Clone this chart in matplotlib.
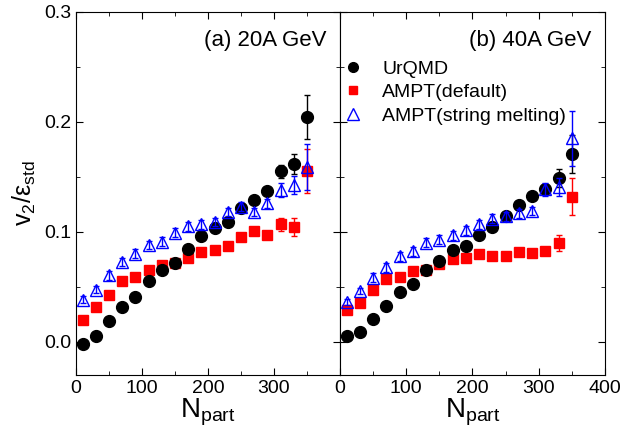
import numpy as np
import matplotlib
matplotlib.use('Agg')
import matplotlib.pyplot as plt
from matplotlib.ticker import MultipleLocator
from matplotlib.lines import Line2D

plt.rcParams['font.family'] = ['Liberation Sans', 'DejaVu Sans']
plt.rcParams['mathtext.fontset'] = 'custom'
plt.rcParams['mathtext.rm'] = 'Liberation Sans'
plt.rcParams['mathtext.it'] = 'Liberation Sans'

# N_part bins
npart = [10, 30, 50, 70, 90, 110, 130, 150, 170, 190, 210, 230, 250, 270, 290, 310, 330, 350]

# 20A GeV
urqmd_20 = [-0.0015, 0.0055, 0.019, 0.032, 0.041, 0.055, 0.0655, 0.072, 0.084, 0.0967,
            0.1034, 0.109, 0.122, 0.129, 0.137, 0.155, 0.1615, 0.204]
urqmd_20_err = [0.001, 0.001, 0.001, 0.001, 0.001, 0.001, 0.001, 0.001, 0.002, 0.002,
                0.002, 0.002, 0.003, 0.003, 0.003, 0.006, 0.009, 0.02]
def_20 = [0.0197, 0.032, 0.043, 0.055, 0.059, 0.065, 0.070, 0.0713, 0.0767, 0.0815,
          0.0834, 0.0876, 0.0958, 0.1006, 0.0973, 0.107, 0.1045, 0.155]
def_20_err = [0.001, 0.001, 0.001, 0.001, 0.001, 0.001, 0.001, 0.002, 0.002, 0.002,
              0.002, 0.002, 0.002, 0.003, 0.003, 0.006, 0.008, 0.02]
sm_20 = [0.0385, 0.0476, 0.0606, 0.0727, 0.080, 0.088, 0.091, 0.0994, 0.105, 0.107,
         0.109, 0.118, 0.123, 0.118, 0.126, 0.138, 0.1425, 0.159]
sm_20_err = [0.003, 0.003, 0.004, 0.004, 0.004, 0.004, 0.004, 0.004, 0.004, 0.004,
             0.004, 0.004, 0.004, 0.004, 0.004, 0.006, 0.008, 0.021]

# 40A GeV
urqmd_40 = [0.0055, 0.0091, 0.0213, 0.0325, 0.0455, 0.053, 0.065, 0.0734, 0.0834, 0.0873,
            0.0976, 0.104, 0.1145, 0.124, 0.1327, 0.1394, 0.149, 0.1706]
urqmd_40_err = [0.001, 0.001, 0.001, 0.001, 0.001, 0.001, 0.001, 0.002, 0.002, 0.002,
                0.002, 0.002, 0.003, 0.003, 0.003, 0.004, 0.008, 0.017]
def_40 = [0.0288, 0.0355, 0.047, 0.0573, 0.0594, 0.0643, 0.0658, 0.0706, 0.0752, 0.0767,
          0.0797, 0.078, 0.078, 0.0818, 0.081, 0.0827, 0.090, 0.132]
def_40_err = [0.001, 0.001, 0.001, 0.001, 0.001, 0.001, 0.001, 0.001, 0.002, 0.002,
              0.002, 0.002, 0.002, 0.002, 0.002, 0.004, 0.0075, 0.017]
sm_40 = [0.0364, 0.0464, 0.0585, 0.068, 0.078, 0.0825, 0.090, 0.093, 0.097, 0.1015,
         0.107, 0.112, 0.114, 0.117, 0.119, 0.1385, 0.141, 0.185]
sm_40_err = [0.003, 0.003, 0.004, 0.004, 0.004, 0.004, 0.004, 0.004, 0.004, 0.004,
             0.004, 0.004, 0.004, 0.004, 0.004, 0.006, 0.008, 0.025]

panels = [
    ('(a) 20A GeV', urqmd_20, urqmd_20_err, def_20, def_20_err, sm_20, sm_20_err),
    ('(b) 40A GeV', urqmd_40, urqmd_40_err, def_40, def_40_err, sm_40, sm_40_err),
]

fig = plt.figure(figsize=(6.21, 4.29), dpi=100)
ax1 = fig.add_axes([0.1224, 0.1259, 0.4251, 0.8468])
ax2 = fig.add_axes([0.5475, 0.1259, 0.4267, 0.8468])

for ax, (title, u, ue, d, de, s, se) in zip([ax1, ax2], panels):
    ax.errorbar(npart, u, yerr=ue, fmt='o', color='black', ms=8.5, elinewidth=1,
                capsize=2, capthick=1, zorder=3)
    ax.errorbar(npart, d, yerr=de, fmt='s', color='#ff0000', ms=7.5, elinewidth=1,
                capsize=2, capthick=1, zorder=2)
    ax.errorbar(npart, s, yerr=se, fmt='^', color='#0000ff', mfc='none', mec='#0000ff',
                ms=9, mew=1, elinewidth=1, capsize=2, capthick=1, zorder=4)
    ax.set_xlim(0, 400)
    ax.set_ylim(-0.03, 0.3)
    ax.xaxis.set_major_locator(MultipleLocator(100))
    ax.xaxis.set_minor_locator(MultipleLocator(50))
    ax.yaxis.set_major_locator(MultipleLocator(0.1))
    ax.yaxis.set_minor_locator(MultipleLocator(0.05))
    ax.tick_params(which='both', direction='in', top=True, right=True, labelsize=14)
    ax.tick_params(which='major', length=5)
    ax.tick_params(which='minor', length=3)
    ax.set_xlabel('N$_{\\rm part}$', fontsize=20, labelpad=0)
    ax.text(0.95, 0.95, title, transform=ax.transAxes, ha='right', va='top', fontsize=16)

ax1.set_xticks([0, 100, 200, 300])
ax1.set_xticklabels(['0', '100', '200', '300'])
ax1.set_yticks([0.0, 0.1, 0.2, 0.3])
ax1.set_yticklabels(['0.0', '0.1', '0.2', '0.3'])
ax1.set_ylabel('v$_2$/ε$_{\\rm std}$', fontsize=18, labelpad=4)
ax2.tick_params(labelleft=False)

handles = [
    Line2D([], [], ls='none', marker='o', color='black', ms=7),
    Line2D([], [], ls='none', marker='s', color='#ff0000', ms=6),
    Line2D([], [], ls='none', marker='^', mfc='none', mec='#0000ff', mew=1, ms=8),
]
labels = ['UrQMD', 'AMPT(default)', 'AMPT(string melting)']
ax2.legend(handles, labels, loc='upper left', bbox_to_anchor=(-0.06, 0.915), frameon=False,
           fontsize=14, handletextpad=0.9, labelspacing=0.3, handlelength=1.2)

fig.savefig('out.png', dpi=100)
